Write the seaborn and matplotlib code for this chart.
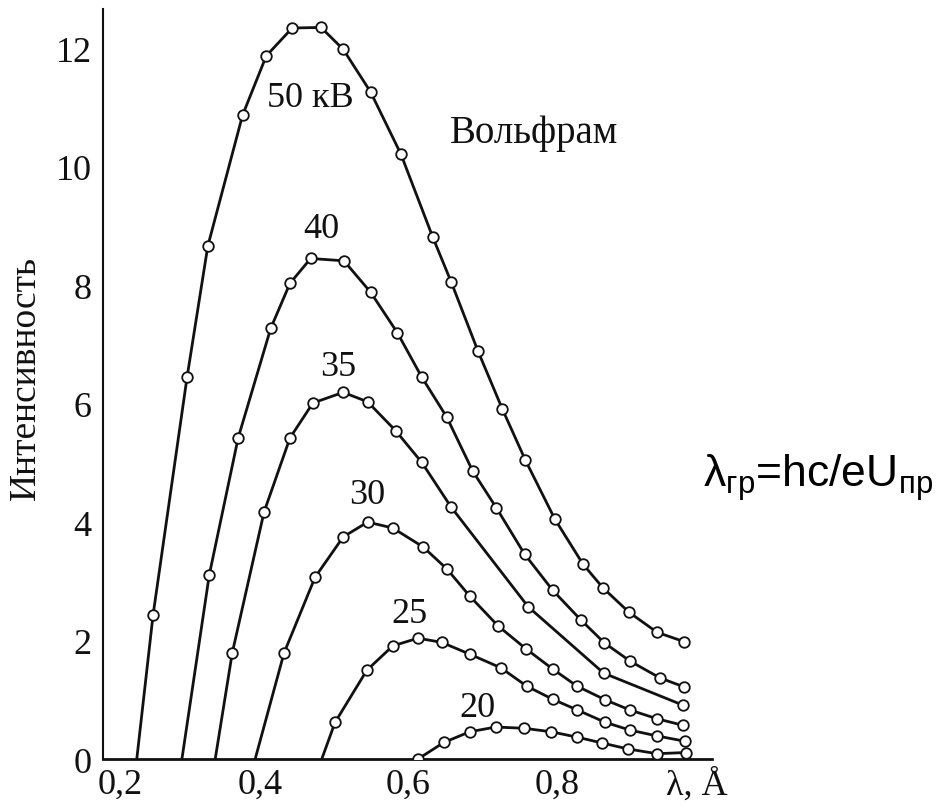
import pandas as pd
import matplotlib
matplotlib.use("Agg")
import matplotlib.pyplot as plt
from matplotlib.transforms import ScaledTranslation
import seaborn as sns

# short-wave limit of each curve (line starts on the axis, no marker there)
start_50, start_40, start_35, start_30, start_25 = 0.243, 0.304, 0.349, 0.403, 0.493

lam_50 = [0.265, 0.311, 0.339, 0.386, 0.418, 0.453, 0.492, 0.522, 0.559, 0.600, 0.643,
          0.668, 0.704, 0.737, 0.768, 0.808, 0.846, 0.873, 0.908, 0.946, 0.983]
int_50 = [2.43, 6.45, 8.66, 10.87, 11.87, 12.34, 12.35, 11.98, 11.26, 10.21, 8.81,
          8.05, 6.89, 5.91, 5.05, 4.05, 3.29, 2.89, 2.48, 2.14, 1.98]

lam_40 = [0.341, 0.380, 0.424, 0.450, 0.478, 0.523, 0.559, 0.595, 0.628, 0.662,
          0.697, 0.729, 0.767, 0.805, 0.843, 0.875, 0.910, 0.950, 0.982]
int_40 = [3.11, 5.42, 7.27, 8.03, 8.45, 8.41, 7.88, 7.20, 6.45, 5.77,
          4.86, 4.24, 3.46, 2.85, 2.35, 1.96, 1.65, 1.37, 1.22]

lam_35 = [0.372, 0.415, 0.450, 0.481, 0.522, 0.555, 0.593, 0.628, 0.668, 0.772, 0.874, 0.981]
int_35 = [1.79, 4.17, 5.42, 6.01, 6.19, 6.03, 5.54, 5.01, 4.25, 2.57, 1.45, 0.91]

lam_30 = [0.442, 0.484, 0.522, 0.555, 0.589, 0.630, 0.662, 0.693, 0.731, 0.769,
          0.805, 0.838, 0.876, 0.909, 0.946, 0.981]
int_30 = [1.79, 3.07, 3.75, 4.00, 3.90, 3.58, 3.21, 2.75, 2.25, 1.86,
          1.52, 1.23, 1.00, 0.83, 0.68, 0.57]

lam_25 = [0.511, 0.554, 0.589, 0.623, 0.655, 0.693, 0.735, 0.770, 0.805, 0.838,
          0.876, 0.909, 0.946, 0.984]
int_25 = [0.62, 1.50, 1.91, 2.04, 1.97, 1.77, 1.54, 1.23, 1.01, 0.83,
          0.62, 0.49, 0.39, 0.30]

lam_20 = [0.623, 0.658, 0.693, 0.728, 0.766, 0.803, 0.838, 0.872, 0.907, 0.946, 0.985]
int_20 = [0.00, 0.28, 0.46, 0.54, 0.52, 0.46, 0.37, 0.27, 0.17, 0.09, 0.11]

curve_labels = ["50 кВ", "40", "35", "30", "25", "20"]
label_x = [0.478, 0.493, 0.515, 0.554, 0.611, 0.703]
label_y = [11.16, 8.95, 6.63, 4.47, 2.45, 0.87]

x_ticks = [0.2, 0.4, 0.6, 0.8, 1.0]
x_ticklabels = ["0,2", "0,4", "0,6", "0,8", "λ, Å"]
x_minor = [0.3, 0.5, 0.7, 0.9]
y_ticks = [0, 2, 4, 6, 8, 10, 12]
y_minor = [1, 3, 5, 7, 9, 11]

curves = [
    (50, start_50, lam_50, int_50),
    (40, start_40, lam_40, int_40),
    (35, start_35, lam_35, int_35),
    (30, start_30, lam_30, int_30),
    (25, start_25, lam_25, int_25),
    (20, None, lam_20, int_20),
]

line_rows = []
point_rows = []
for kv, start, lam, inten in curves:
    if start is not None:
        line_rows.append((kv, start, 0.0))
    for l, i in zip(lam, inten):
        line_rows.append((kv, l, i))
        point_rows.append((kv, l, i))
lines = pd.DataFrame(line_rows, columns=["kV", "lam", "I"])
points = pd.DataFrame(point_rows, columns=["kV", "lam", "I"])

sns.set_style("white")
plt.rcParams["font.family"] = ["Liberation Serif", "DejaVu Serif"]

fig = plt.figure(figsize=(9.49, 8.12), dpi=100)
ax = fig.add_axes([0.1085, 0.064, 0.6417, 0.9236])

ink = "#111111"
sns.lineplot(data=lines, x="lam", y="I", units="kV", estimator=None, sort=False,
             color=ink, linewidth=2.0, ax=ax, legend=False)
sns.scatterplot(data=points, x="lam", y="I", marker="o", s=58, color="white",
                edgecolor=ink, linewidth=1.3, ax=ax, zorder=3, legend=False)

ax.set_xlim(0.1973, 1.0203)
ax.set_ylim(0, 12.66)
ax.set_xticks(x_ticks)
ax.set_xticklabels(x_ticklabels)
ax.set_xticks(x_minor, minor=True)
ax.set_yticks(y_ticks)
ax.set_yticks(y_minor, minor=True)
ax.tick_params(axis="both", which="both", direction="in", color=ink, width=1.3,
               labelsize=26, labelcolor=ink)
ax.tick_params(axis="y", which="both", length=10, pad=8)
ax.tick_params(axis="x", which="both", length=8, pad=6)

# the printed x labels sit a little right of their ticks
shifts_px = [15, 7, 7, 8, 0]
for lab, dx in zip(ax.get_xticklabels(), shifts_px):
    lab.set_transform(lab.get_transform() + ScaledTranslation(dx / 100, 0, fig.dpi_scale_trans))

for side in ["top", "right"]:
    ax.spines[side].set_visible(False)
ax.spines["left"].set_linewidth(1.5)
ax.spines["bottom"].set_linewidth(2.0)
ax.spines["left"].set_color(ink)
ax.spines["bottom"].set_color(ink)

ax.set_xlabel("")
ax.set_ylabel("Интенсивность", fontsize=27, color=ink)
ax.yaxis.set_label_coords(-0.098, 0.509)

for txt, lx, ly in zip(curve_labels, label_x, label_y):
    ax.text(lx, ly, txt, fontsize=26, ha="center", va="center", color=ink)
ax.text(0.780, 10.58, "Вольфрам", fontsize=28, ha="center", va="center", color=ink)

fig.text(0.741, 0.400, r"$\mathregular{λ_{гр}}$=hc/e$\mathregular{U_{пр}}$",
         fontsize=32, family="Liberation Sans", ha="left", va="baseline", color="black")

fig.savefig("out.png", dpi=100)
